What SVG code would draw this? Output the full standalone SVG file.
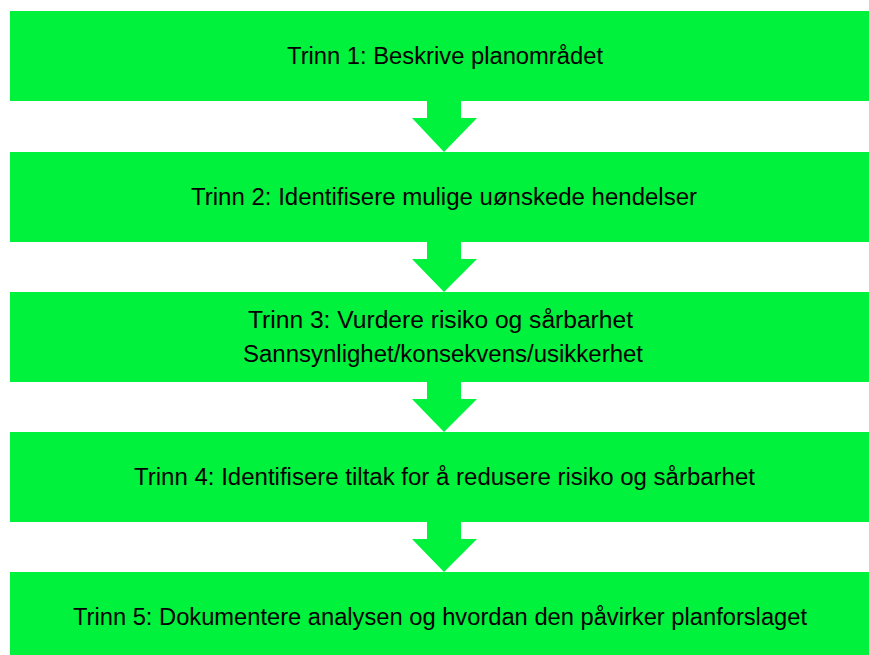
<svg xmlns="http://www.w3.org/2000/svg" width="869" height="655" viewBox="0 0 869 655">
<style>
.box{fill:#00F23C}
.arr{fill:#00F23C}
text{font-family:"Liberation Sans",Arial,sans-serif;font-size:23px;fill:#000;text-anchor:middle}
</style>
<rect width="869" height="655" fill="#fff"/>
<g id="connectors">
<polygon class="arr" points="427,101 461,101 461,118 477,118 444,152 412,118 427,118"/>
<polygon class="arr" points="427,242 461,242 461,259 477,259 444,292 412,259 427,259"/>
<polygon class="arr" points="427,382 461,382 461,399 477,399 444,432 412,399 427,399"/>
<polygon class="arr" points="427,522 461,522 461,539 477,539 444,572 412,539 427,539"/>
</g>
<g id="step1"><rect class="box" x="10" y="11" width="870" height="90"/><text x="445" y="64" textLength="316" lengthAdjust="spacingAndGlyphs">Trinn 1: Beskrive planområdet</text></g>
<g id="step2"><rect class="box" x="10" y="152" width="870" height="90"/><text x="444" y="205" textLength="506" lengthAdjust="spacingAndGlyphs">Trinn 2: Identifisere mulige uønskede hendelser</text></g>
<g id="step3"><rect class="box" x="10" y="292" width="870" height="90"/><text x="440.5" y="328" textLength="385" lengthAdjust="spacingAndGlyphs">Trinn 3: Vurdere risiko og sårbarhet</text><text x="443" y="362" textLength="400" lengthAdjust="spacingAndGlyphs">Sannsynlighet/konsekvens/usikkerhet</text></g>
<g id="step4"><rect class="box" x="10" y="432" width="870" height="90"/><text x="444.5" y="485" textLength="621" lengthAdjust="spacingAndGlyphs">Trinn 4: Identifisere tiltak for å redusere risiko og sårbarhet</text></g>
<g id="step5"><rect class="box" x="10" y="572" width="870" height="90"/><text x="440" y="625" textLength="734" lengthAdjust="spacingAndGlyphs">Trinn 5: Dokumentere analysen og hvordan den påvirker planforslaget</text></g>
</svg>
